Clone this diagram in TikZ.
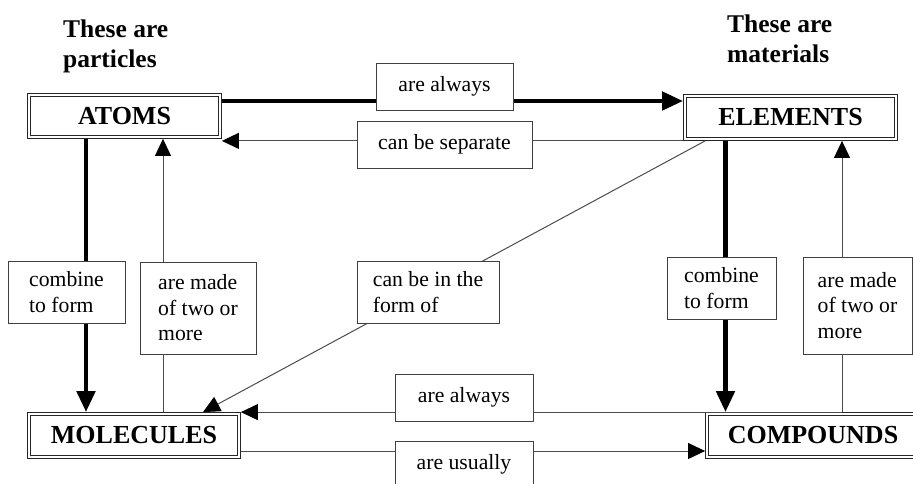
\documentclass[tikz,border=0pt]{standalone}
\usepackage{fontspec}
\setmainfont{Liberation Serif}
\usetikzlibrary{arrows.meta}

\begin{document}
\begin{tikzpicture}[x=1pt, y=-1pt,
  concept/.style = {draw=black!85, double, double distance=2.6pt, line width=0.7pt,
                    inner sep=0pt, outer sep=1.9pt,
                    font=\fontsize{26}{30}\selectfont\bfseries},
  linkbox/.style = {draw=black!75, fill=white, line width=0.8pt, inner sep=0pt,
                    align=left, font=\fontsize{21.7}{25.5}\selectfont},
  header/.style  = {inner sep=0pt, align=left, anchor=base west,
                    font=\fontsize{25.5}{30}\selectfont\bfseries},
  heavy/.style   = {line width=4.8pt, -{Triangle[length=21pt, width=18pt]}},
  light/.style   = {draw=black!70, line width=1pt, -{Triangle[length=17pt, width=16pt, color=black]}}]
\useasboundingbox (0,0) rectangle (913,483);

\node [header] (hpart) at (63,67) {These are\\particles};
\node [header] (hmat) at (727,62) {These are\\materials};

\node [concept, minimum width=191, minimum height=42] (atoms) at (124.5,116) {ATOMS};
\node [concept, minimum width=211, minimum height=43] (elements) at (790.5,117.5) {ELEMENTS};
\node [concept, minimum width=210, minimum height=43] (molecules) at (134,435.5) {MOLECULES};
\node [concept, minimum width=212, minimum height=43] (compounds) at (813,435.5) {COMPOUNDS};

\draw [heavy] ([yshift=15pt]atoms.east) -- ([yshift=15pt]atoms.east -| elements.west);
\draw [light] (elements.south west) -- (elements.south west -| atoms.east);
\draw [heavy] ([xshift=-38.5pt]atoms.south) -- ([xshift=-38.5pt]atoms.south |- molecules.north);
\draw [light] ([xshift=38.5pt]atoms.south |- molecules.north) -- ([xshift=38.5pt]atoms.south);
\draw [light] ([xshift=22pt]elements.south west) -- ([xshift=69pt]molecules.north);
\draw [heavy] ([xshift=-65pt]elements.south) -- ([xshift=-65pt]elements.south |- compounds.north);
\coordinate (cup) at ([xshift=51.5pt]elements.south |- compounds.north);
\draw [light] (cup) -- ([xshift=51.5pt]elements.south);
\draw [light] (cup) -- (molecules.north east);
\draw [light] ([yshift=-15.5pt]molecules.east) -- ([yshift=-15.5pt]molecules.east -| compounds.west);

\node [linkbox, minimum width=137, minimum height=47] (always1) at (444.5,86.5) {are always};
\node [linkbox, minimum width=175, minimum height=47] (separate) at (444.5,144.5) {can be separate};
\node [linkbox, minimum width=117, minimum height=62] (combine1) at (66.5,292) {combine\\to form};
\node [linkbox, minimum width=116, minimum height=92] (made1) at (198,308) {are made\\of two or\\more};
\node [linkbox, minimum width=142, minimum height=62] (formof) at (428,292) {can be in the\\form of};
\node [linkbox, minimum width=109, minimum height=62] (combine2) at (721.5,288) {combine\\to form};
\node [linkbox, minimum width=109, minimum height=97] (made2) at (857.5,305.5) {are made\\of two or\\more};
\node [linkbox, minimum width=138, minimum height=47] (always2) at (464,397.5) {are always};
\node [linkbox, minimum width=138, minimum height=47] (usually) at (464,464.5) {are usually};

\end{tikzpicture}
\end{document}
